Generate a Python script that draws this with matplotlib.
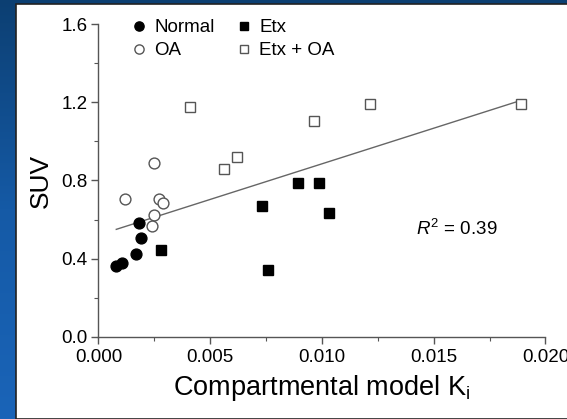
import numpy as np
import matplotlib
matplotlib.use("Agg")
import matplotlib.pyplot as plt
from matplotlib.patches import Rectangle
from matplotlib.ticker import MultipleLocator
from matplotlib.colors import LinearSegmentedColormap

plt.rcParams['font.family'] = ['Liberation Sans', 'DejaVu Sans']
plt.rcParams['mathtext.fontset'] = 'custom'
plt.rcParams['mathtext.rm'] = 'Liberation Sans'
plt.rcParams['mathtext.it'] = 'Liberation Sans:italic'

# ---- data ----
normal_x = [0.00080, 0.00107, 0.00168, 0.00189, 0.00180]
normal_y = [0.362, 0.376, 0.423, 0.507, 0.581]
oa_x = [0.00120, 0.00248, 0.00269, 0.00288, 0.00248, 0.00239]
oa_y = [0.703, 0.888, 0.703, 0.686, 0.623, 0.567]
etx_x = [0.00280, 0.00733, 0.00760, 0.00893, 0.00986, 0.01032]
etx_y = [0.444, 0.669, 0.340, 0.787, 0.787, 0.635]
etxoa_x = [0.00408, 0.00563, 0.00620, 0.00966, 0.01214, 0.01890]
etxoa_y = [1.175, 0.857, 0.922, 1.107, 1.190, 1.194]
r2_text = "0.39"
x_ticks = [0.000, 0.005, 0.010, 0.015, 0.020]
y_ticks = [0.0, 0.4, 0.8, 1.2, 1.6]

W, H = 567, 419
fig = plt.figure(figsize=(W / 100, H / 100), dpi=100)

# background gradient
bg = fig.add_axes([0, 0, 1, 1], zorder=-10)
grad = np.linspace(0, 1, 256).reshape(-1, 1)
cmap = LinearSegmentedColormap.from_list("b", ["#0c3f72", "#155aa6", "#1a64b8"])
bg.imshow(grad, aspect='auto', cmap=cmap, extent=[0, 1, 0, 1], origin='upper')
bg.add_patch(Rectangle((16 / W, 0), 1, 1 - 4 / H, transform=bg.transAxes,
                       facecolor='white', edgecolor='#222222', lw=1.2))
bg.set_xlim(0, 1); bg.set_ylim(0, 1)
bg.axis('off')

ax = fig.add_axes([98.4 / W, 82.3 / H, 447 / W, 312.4 / H])
ax.set_facecolor('none')

ms_c, ms_s = 7.8, 7.2
ax.plot(normal_x, normal_y, 'o', color='black', ms=ms_c, ls='none', label='Normal')
ax.plot(oa_x, oa_y, 'o', mfc='white', mec='#555555', mew=1.0, ms=ms_c, ls='none', label='OA')
ax.plot(etx_x, etx_y, 's', color='black', ms=ms_s, ls='none', label='Etx')
ax.plot(etxoa_x, etxoa_y, 's', mfc='white', mec='#555555', mew=1.0, ms=ms_s, ls='none', label='Etx + OA')

all_x = np.array(normal_x + oa_x + etx_x + etxoa_x)
all_y = np.array(normal_y + oa_y + etx_y + etxoa_y)
slope, icpt = np.polyfit(all_x, all_y, 1)
xx = np.array([all_x.min(), all_x.max()])
ax.plot(xx, slope * xx + icpt, color='#666666', lw=1.0, zorder=1)

ax.text(0.01421, 0.521, r'$R^2$ = ' + r2_text, fontsize=13.5, va='baseline', ha='left')

ax.set_xlim(0, 0.020)
ax.set_ylim(0, 1.6)
ax.set_xticks(x_ticks)
ax.set_xticklabels([f"{v:.3f}" for v in x_ticks])
ax.set_yticks(y_ticks)
ax.set_yticklabels([f"{v:.1f}" for v in y_ticks])
ax.xaxis.set_minor_locator(MultipleLocator(0.0025))
ax.yaxis.set_minor_locator(MultipleLocator(0.2))
for s in ['top', 'right']:
    ax.spines[s].set_visible(False)
for s in ['left', 'bottom']:
    ax.spines[s].set_color('#555555')
    ax.spines[s].set_linewidth(1.0)
ax.tick_params(which='major', direction='out', length=5, width=1, color='#555555', labelsize=13.5)
ax.tick_params(which='minor', direction='out', length=3, width=0.8, color='#555555')
ax.tick_params(axis='x', which='major', pad=4)
ax.tick_params(axis='y', which='major', pad=3)
ax.set_xlabel('Compartmental model K$_\\mathrm{i}$', fontsize=19.5, labelpad=5)
ax.set_ylabel('SUV', fontsize=19, labelpad=6)

ax.legend(loc='upper left', ncol=2, frameon=False, fontsize=13.5,
          bbox_to_anchor=(131.5 / W, 1 - 19 / H), bbox_transform=fig.transFigure,
          borderpad=0, borderaxespad=0, handlelength=0.8, handletextpad=0.4,
          columnspacing=1.2, labelspacing=0.32, markerscale=0.85)

fig.savefig('out.png', dpi=100)
